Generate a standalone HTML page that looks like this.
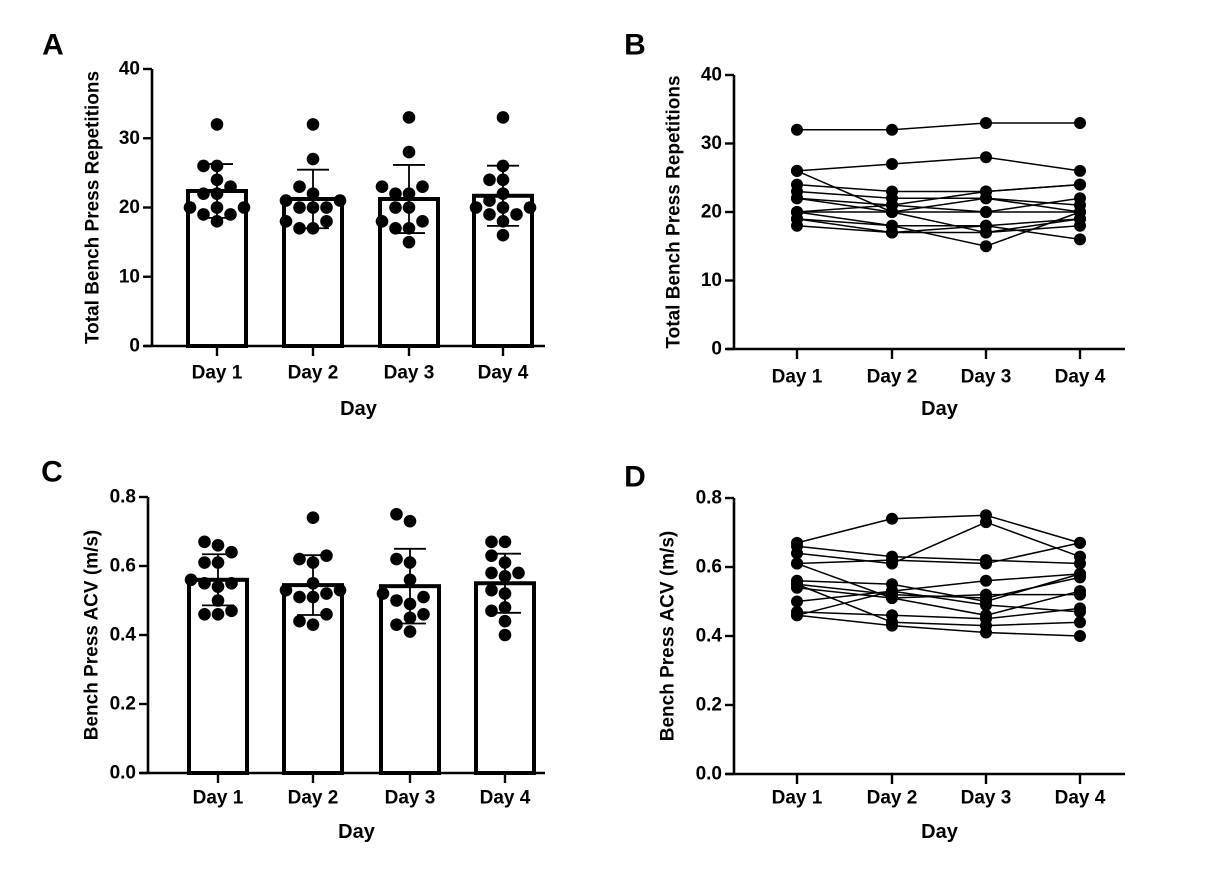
<!DOCTYPE html>
<html><head><meta charset="utf-8">
<style>
html,body{margin:0;padding:0;background:#fff;}
svg{display:block;}
svg text{font-family:"Liberation Sans",Arial,sans-serif;font-weight:700;}
</style></head>
<body>
<svg id="fig" width="1215" height="869" viewBox="0 0 1215 869" xmlns="http://www.w3.org/2000/svg"></svg>
<script>
const days = ["Day 1","Day 2","Day 3","Day 4"];
const repsTicks = [0,10,20,30,40];
const acvTicks = [0.0,0.2,0.4,0.6,0.8];
const acvTickLabels = ["0.0","0.2","0.4","0.6","0.8"];
// repetitions per subject (Day1..Day4)
const reps = [
 [32,32,33,33],[26,27,28,26],[26,20,17,19],[24,23,23,24],[23,22,22,21],
 [22,21,20,22],[22,20,22,20],[20,21,23,24],[20,20,20,20],[20,18,15,20],
 [19,18,18,19],[19,17,17,18],[18,17,18,16]
];
// ACV per subject (Day1..Day4)
const acv = [
 [0.67,0.74,0.75,0.67],[0.64,0.61,0.73,0.63],[0.66,0.63,0.62,0.61],[0.61,0.62,0.61,0.67],
 [0.56,0.55,0.50,0.58],[0.55,0.52,0.51,0.57],[0.54,0.51,0.46,0.53],[0.50,0.53,0.56,0.58],
 [0.47,0.46,0.45,0.48],[0.46,0.53,0.49,0.47],[0.55,0.44,0.43,0.44],[0.61,0.51,0.52,0.52],
 [0.46,0.43,0.41,0.40]
];

const NS="http://www.w3.org/2000/svg";
const svg=document.getElementById('fig');
function mk(tag,attrs,parent){const e=document.createElementNS(NS,tag);for(const k in attrs)e.setAttribute(k,attrs[k]);if(tag==='text'){e.setAttribute('font-weight','bold');e.setAttribute('font-family','Liberation Sans, Arial, sans-serif');}(parent||svg).appendChild(e);return e;}

const panels=[
 {id:'a',letter:'A',lx:53,ly:45,ax:152,x0:152,x1:545,y0:346,ymax:40,ytop:69,xs:[217,313,409,503],ticks:repsTicks,tl:repsTicks.map(String),data:reps,type:'bar',title:'Total Bench Press Repetitions',tx:93,labY:373,dayY:409},
 {id:'b',letter:'B',lx:635,ly:45,ax:734,x0:734,x1:1125,y0:349,ymax:40,ytop:75,xs:[797,892,986,1080],ticks:repsTicks,tl:repsTicks.map(String),data:reps,type:'line',title:'Total Bench Press Repetitions',tx:674,labY:377,dayY:409},
 {id:'c',letter:'C',lx:52,ly:472,ax:148,x0:148,x1:545,y0:773,ymax:0.8,ytop:497,xs:[218,313,410,505],ticks:acvTicks,tl:acvTickLabels,data:acv,type:'bar',title:'Bench Press ACV (m/s)',tx:92,labY:798,dayY:832},
 {id:'d',letter:'D',lx:635,ly:477,ax:734,x0:734,x1:1125,y0:774,ymax:0.8,ytop:498,xs:[797,892,986,1080],ticks:acvTicks,tl:acvTickLabels,data:acv,type:'line',title:'Bench Press ACV (m/s)',tx:668,labY:798,dayY:832}
];

panels.forEach(p=>{
 const g=mk('g',{});
 
 
 const Y=v=>p.y0-(v/p.ymax)*(p.y0-p.ytop);
 const L=mk('text',{x:p.lx,y:p.ly,'font-size':30,'text-anchor':'middle','dominant-baseline':'central'},g);L.textContent=p.letter;
 
 
 const vals=days.map((d,i)=>p.data.map(r=>r[i]));
 if(p.type==='bar'){
  vals.forEach((v,i)=>{
   const m=v.reduce((a,b)=>a+b,0)/v.length;
   const sd=Math.sqrt(v.reduce((a,b)=>a+(b-m)*(b-m),0)/(v.length-1));
   const cx=p.xs[i];
   const r=mk('rect',{x:cx-29,y:Y(m),width:58,height:p.y0-Y(m),fill:'#fff',stroke:'#000','stroke-width':4},g);
   
   
   const placed=[];const rad=6.3,step=13.5;
   const sorted=v.slice().sort((a,b)=>a-b);
   sorted.forEach(val=>{
    const py=Y(val);let off=0;
    const offs=[0,-step,step,-2*step,2*step,-step/2,step/2,-1.5*step,1.5*step,-3*step,3*step];
    for(const o of offs){if(placed.every(q=>Math.hypot(q[0]-(cx+o),q[1]-py)>=2*rad-1)){off=o;break;}}
    placed.push([cx+off,py]);
    const c=mk('circle',{cx:cx+off,cy:py,r:rad,fill:'#000'},g);
    
    
   });
   const e=mk('path',{d:`M${cx},${Y(m+sd)}V${Y(m-sd)}M${cx-16},${Y(m+sd)}H${cx+16}M${cx-16},${Y(m-sd)}H${cx+16}`,stroke:'#000','stroke-width':1.8,fill:'none'},g);
   
   
  });
 } else {
  p.data.forEach((row,s)=>{
   const pl=mk('polyline',{points:row.map((v,i)=>p.xs[i]+','+Y(v)).join(' '),fill:'none',stroke:'#000','stroke-width':1.5},g);
   
   
  });
  p.data.forEach((row,s)=>row.forEach((v,i)=>{
   const c=mk('circle',{cx:p.xs[i],cy:Y(v),r:6,fill:'#000'},g);
   
   
  }));
 }
 const ya=mk('path',{d:`M${p.ax},${Y(p.ymax)}V${p.y0}`,stroke:'#000','stroke-width':2.6,fill:'none'},g);
 
 
 const xa=mk('path',{d:`M${p.x0-8},${p.y0}H${p.x1}`,stroke:'#000','stroke-width':2.6,fill:'none'},g);
 
 
 p.ticks.forEach((t,k)=>{
  mk('path',{d:`M${p.ax-9},${Y(t)}H${p.ax}`,stroke:'#000','stroke-width':2.4},g);
  const tx=mk('text',{x:p.ax-12,y:Y(t),'font-size':19,'text-anchor':'end','dominant-baseline':'central'},g);
  tx.textContent=p.tl[k];
  
  
 });
 days.forEach((d,i)=>{
  mk('path',{d:`M${p.xs[i]},${p.y0}v10`,stroke:'#000','stroke-width':2.4},g);
  const tx=mk('text',{x:p.xs[i],y:p.labY,'font-size':19,'text-anchor':'middle','dominant-baseline':'central'},g);
  tx.textContent=d;
  
  
 });
 const xt=mk('text',{x:(p.x0+p.x1)/2+10,y:p.dayY,'font-size':20,'text-anchor':'middle','dominant-baseline':'central'},g);
 xt.textContent='Day';
 
 
 const cy=(Y(p.ymax)+p.y0)/2;
 const yt=mk('text',{x:p.tx,y:cy,'font-size':19,'text-anchor':'middle','dominant-baseline':'central',transform:`rotate(-90 ${p.tx} ${cy})`},g);
 yt.textContent=p.title;
 
 
});
</script>
</body></html>
